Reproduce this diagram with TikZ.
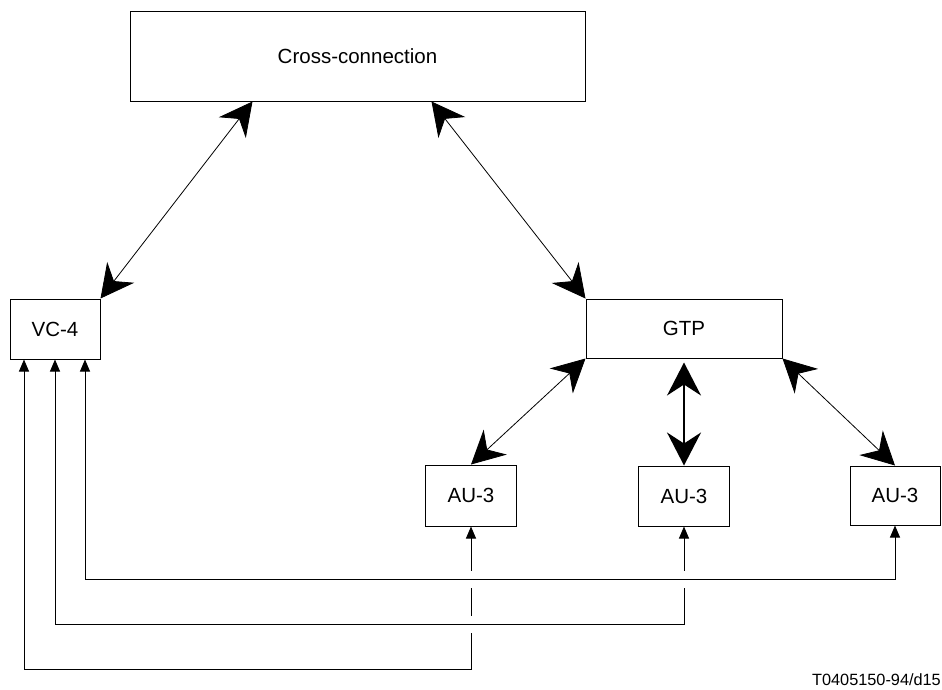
\documentclass[tikz,border=0pt]{standalone}
\usepackage{fontspec}
\setmainfont{Liberation Sans}
\usetikzlibrary{arrows.meta,calc}
\newcommand\boxfont{\fontsize{20.5}{24}\selectfont}
\newcommand\labfont{\fontsize{16.3}{19}\selectfont}
\begin{document}
\begin{tikzpicture}[x=1pt,y=-1pt,
  box/.style={draw, line width=1pt, inner sep=0pt, font=\boxfont},
  bigarr/.style={line width=0.8pt, {Stealth[length=33pt,width=34pt,inset=11pt]}-{Stealth[length=33pt,width=34pt,inset=11pt]}},
  thickarr/.style={line width=1.8pt, {Stealth[length=33pt,width=34pt,inset=11pt]}-{Stealth[length=33pt,width=34pt,inset=11pt]}},
  feed/.style={line width=1pt, {Triangle[length=12pt,width=10pt]}-{Triangle[length=12pt,width=10pt]}},
  gap/.style={fill=white}
]
\useasboundingbox (0,0) rectangle (942,689);

\node[box, minimum width=455pt, minimum height=90pt] (cc) at (357.5,56) {Cross-connection};
\node[box, minimum width=90pt, minimum height=60pt] (vc4) at (55,329) {VC-4};
\node[box, minimum width=196pt, minimum height=59pt] (gtp) at (684,328.5) {GTP};
\node[box, minimum width=91pt, minimum height=61pt] (au1) at (471,495.5) {AU-3};
\node[box, minimum width=91pt, minimum height=60pt] (au2) at (684,496) {AU-3};
\node[box, minimum width=90pt, minimum height=59pt] (au3) at (895,495.5) {AU-3};

\node[font=\labfont, inner sep=0pt, anchor=base east] (lab) at (941,685) {T0405150-94/d15};

% cross-connection links
\draw[bigarr] ([xshift=123pt]cc.south west) -- (vc4.north east);
\draw[bigarr] ([xshift=302pt]cc.south west) -- (gtp.north west);

% GTP to AU-3 links
\draw[bigarr] (gtp.south west) -- (au1.north);
\draw[thickarr, shorten <=4pt] (gtp.south) -- (gtp.south |- au2.north);
\draw[bigarr] (gtp.south east) -- (au3.north);

% feed lines
\coordinate (yA) at (0,669);
\coordinate (yB) at (0,624);
\coordinate (yC) at (0,579);

\draw[feed] ([xshift=-31pt]vc4.south) |- (au1.south |- yA) -- (au1.south);
\fill[gap] ($(au1.south |- yB)+(-3,-8.5)$) rectangle ($(au1.south |- yB)+(3,8.5)$);
\fill[gap] ($(au1.south |- yC)+(-3,-8.5)$) rectangle ($(au1.south |- yC)+(3,8.5)$);
\draw[feed] (vc4.south) |- (au2.south |- yB) -- (au2.south);
\fill[gap] ($(au2.south |- yC)+(-3,-8.5)$) rectangle ($(au2.south |- yC)+(3,8.5)$);
\draw[feed] ([xshift=30pt]vc4.south) |- (au3.south |- yC) -- (au3.south);
\end{tikzpicture}
\end{document}
